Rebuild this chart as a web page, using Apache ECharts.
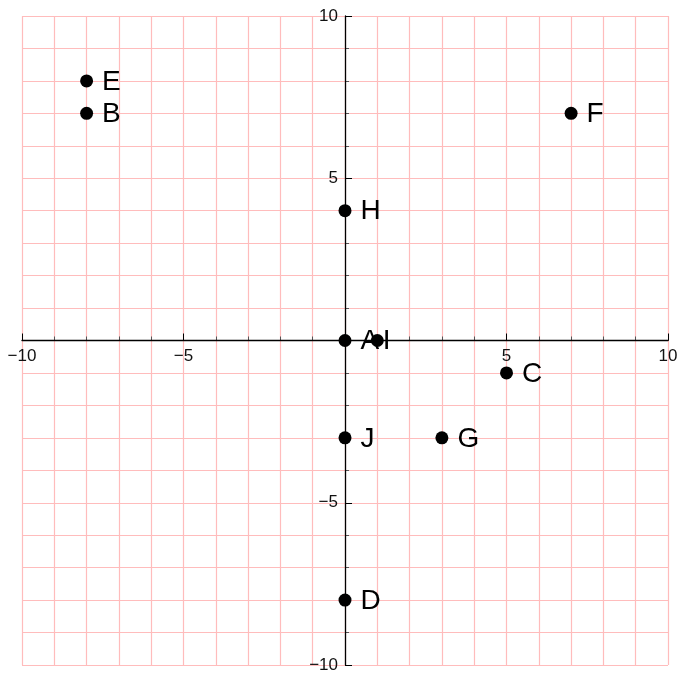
<!DOCTYPE html>
<html>
<head>
<meta charset="utf-8">
<script src="https://cdn.jsdelivr.net/npm/echarts@6/dist/echarts.min.js"></script>
<style>
html,body{margin:0;padding:0;background:#fff;}
#chart{width:681px;height:673px;}
</style>
</head>
<body>
<div id="chart"></div>
<script>
const pointNames = ['E', 'B', 'F', 'H', 'A', 'I', 'C', 'J', 'G', 'D'];
const xValues = [-8, -8, 7, 0, 0, 1, 5, 0, 3, 0];
const yValues = [8, 7, 7, 4, 0, 0, -1, -3, -3, -8];
const axisMin = -10;
const axisMax = 10;
const majorStep = 5;
const gridStep = 1;

const labelShift = { I: -10 };

const W = 681, H = 673;
const G = { left: 22, right: 13, top: 16, bottom: 8 };
const plotW = W - G.left - G.right;
const plotH = H - G.top - G.bottom;
const frac = (0 - axisMin) / (axisMax - axisMin);

const fmt = v => v === 0 ? '' : String(v).replace('-', '\u2212');
const pink = '#ffbcbc';

const data = pointNames.map((n, i) => ({
  name: n,
  value: [xValues[i], yValues[i]],
  label: { offset: [labelShift[n] || 0, 1] }
}));

function gridAxis(isX) {
  return {
    type: 'value', min: axisMin, max: axisMax, interval: gridStep,
    position: isX ? 'bottom' : 'left',
    offset: isX ? -plotH * frac : -plotW * frac,
    axisLine: { show: false, onZero: false },
    axisTick: { show: true, inside: true, length: 4, lineStyle: { color: '#555', width: 1 } },
    axisLabel: { show: false },
    splitLine: { show: true, lineStyle: { color: pink, width: 1.2 } },
    z: 0
  };
}

function mainAxis(isX) {
  return {
    type: 'value', min: axisMin, max: axisMax, interval: majorStep,
    position: isX ? 'bottom' : 'left',
    offset: isX ? -plotH * frac : -plotW * frac,
    axisLine: { show: true, onZero: false, lineStyle: { color: '#000', width: 1.3 } },
    axisTick: { show: true, inside: true, length: 7, lineStyle: { color: '#000', width: 1 } },
    minorTick: { show: false },
    splitLine: { show: false },
    minorSplitLine: { show: false },
    axisLabel: {
      formatter: fmt,
      fontFamily: 'Liberation Sans',
      fontSize: 17,
      color: '#111',
      margin: isX ? 7 : 7,
      showMinLabel: true,
      showMaxLabel: true
    },
    z: 3
  };
}

const chart = echarts.init(document.getElementById('chart'), null, { renderer: 'canvas' });
chart.setOption({
  animation: false,
  backgroundColor: '#fff',
  grid: { left: G.left, right: G.right, top: G.top, bottom: G.bottom, containLabel: false, outerBoundsMode: 'none' },
  xAxis: [gridAxis(true), mainAxis(true)],
  yAxis: [gridAxis(false), mainAxis(false)],
  series: [{
    type: 'scatter',
    xAxisIndex: 0,
    yAxisIndex: 0,
    data: data,
    symbol: 'circle',
    symbolSize: 13,
    itemStyle: { color: '#000', opacity: 1 },
    label: {
      show: true,
      position: 'right',
      distance: 9,
      formatter: p => p.name,
      fontFamily: 'Liberation Sans',
      fontSize: 28,
      color: '#000'
    },
    z: 5
  }]
});
</script>
</body>
</html>
